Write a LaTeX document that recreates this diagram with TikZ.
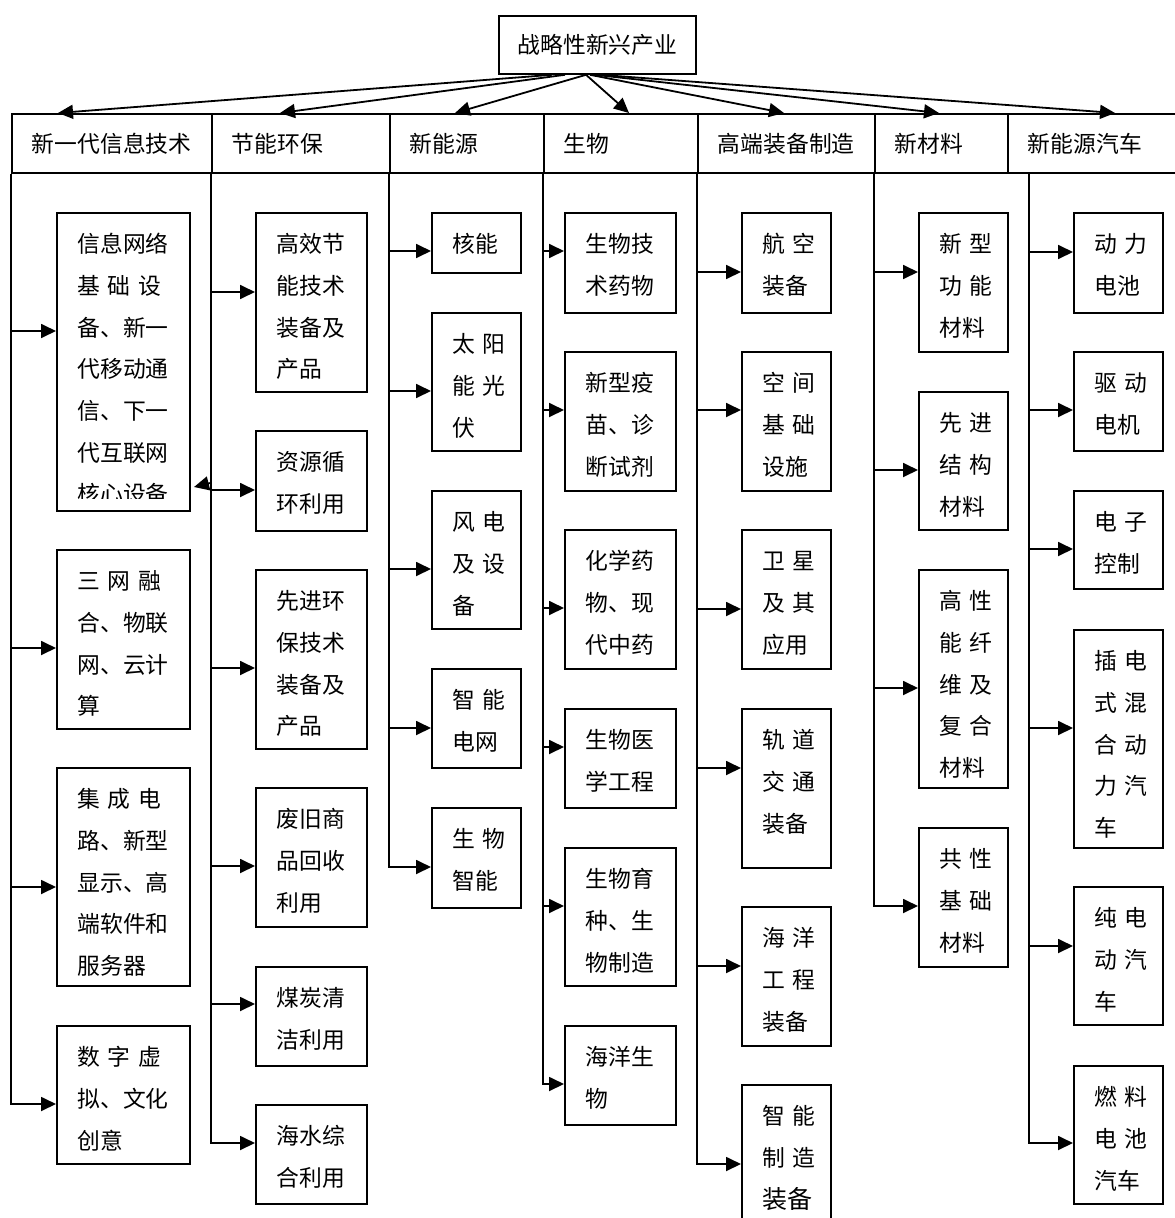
\documentclass[tikz,border=0pt]{standalone}
\usepackage{fontspec}
\newfontfamily\cjk{Noto Sans CJK SC}
\usepackage{tikz}
\usetikzlibrary{arrows.meta,calc}
\newcommand{\spreadline}[1]{\makebox[4em][s]{#1}}

\begin{document}
\begin{tikzpicture}[x=1pt,y=-1pt,line width=1.8pt,
  every node/.style={font=\cjk\fontsize{22.8}{41.7}\selectfont},
  head/.style={draw,anchor=north west,minimum height=59pt,inner xsep=20pt,align=left},
  item/.style={draw,anchor=north west,inner xsep=20.5pt,inner ysep=0pt,align=left,text height=39.7pt,text depth=#1},
  wide/.style={text width=92pt},
  mid/.style={text width=70pt},
  narrow/.style={text width=48pt},
  arr/.style={-{Triangle[length=15pt,width=14pt]}}]
  \useasboundingbox (0,0) rectangle (1175,1218);
  % root and header row
  \node[draw,anchor=north west,minimum width=197pt,minimum height=58pt] (root) at (498,15) {战略性新兴产业};
  \node[head,text width=160pt] (h1) at (11,113) {新一代信息技术};
  \node[head,text width=138pt] (h2) at (211,113) {节能环保};
  \node[head,text width=114pt] (h3) at (389,113) {新能源};
  \node[head,text width=114pt] (h4) at (543,113) {生物};
  \node[head,text width=137pt] (h5) at (697,113) {高端装备制造};
  \node[head,text width=93pt] (h6) at (874,113) {新材料};
  \node[head,text width=140pt] (h7) at (1007,113) {新能源汽车};
  \foreach \h/\a/\b in {h1/54/47,h2/67/69,h3/88/66,h4/88/86,h5/92/87,h6/97/65,h7/102/108}
    \draw[arr] ($(root.south west)+(\a,0)$) -- ($(\h.north west)+(\b,0)$);
  \coordinate (t1) at (h1.south west);
  \coordinate (t2) at (h2.south west);
  \coordinate (t3) at (h3.south west);
  \coordinate (t4) at (h4.south west);
  \coordinate (t5) at (h5.south west);
  \coordinate (t6) at (h6.south west);
  \coordinate (t7) at ($(h7.south west)+(22,0)$);
  % new generation IT
  \node[item=258.3pt,wide] (it1) at (56,212) {信息网络\\\spreadline{基 础 设}\\备、新一\\代移动通\\信、下一\\代互联网\\核心设备};
  \fill[white] (57.5,499) rectangle (187.5,509);
  \node[item=139.3pt,wide] (it2) at (56,549) {\spreadline{三 网 融}\\合、物联\\网、云计\\算};
  \node[item=178.3pt,wide] (it3) at (56,767) {\spreadline{集 成 电}\\路、新型\\显示、高\\端软件和\\服务器};
  \node[item=98.3pt,wide] (it4) at (56,1025) {\spreadline{数 字 虚}\\拟、文化\\创意};
  % energy saving
  \node[item=139.3pt,mid] (eco1) at (255,212) {高效节\\能技术\\装备及\\产品};
  \node[item=60.3pt,mid] (eco2) at (255,430) {资源循\\环利用};
  \node[item=139.3pt,mid] (eco3) at (255,569) {先进环\\保技术\\装备及\\产品};
  \node[item=99.3pt,mid] (eco4) at (255,787) {废旧商\\品回收\\利用};
  \node[item=59.3pt,mid] (eco5) at (255,966) {煤炭清\\洁利用};
  \node[item=59.3pt,mid] (eco6) at (255,1104) {海水综\\合利用};
  % new energy
  \node[item=20.3pt,narrow] (en1) at (431,212) {核能};
  \node[item=98.3pt,narrow] (en2) at (431,312) {太~阳\\能~光\\伏};
  \node[item=98.3pt,narrow] (en3) at (431,490) {风~电\\及~设\\备};
  \node[item=59.3pt,narrow] (en4) at (431,668) {智~能\\电网};
  \node[item=60.3pt,narrow] (en5) at (431,807) {生~物\\智能};
  % biology
  \node[item=60.3pt,mid] (bio1) at (564,212) {生物技\\术药物};
  \node[item=99.3pt,mid] (bio2) at (564,351) {新型疫\\苗、诊\\断试剂};
  \node[item=99.3pt,mid] (bio3) at (564,529) {化学药\\物、现\\代中药};
  \node[item=59.3pt,mid] (bio4) at (564,708) {生物医\\学工程};
  \node[item=98.3pt,mid] (bio5) at (564,847) {生物育\\种、生\\物制造};
  \node[item=59.3pt,mid] (bio6) at (564,1025) {海洋生\\物};
  % high-end equipment
  \node[item=60.3pt,narrow] (eq1) at (741,212) {航~空\\装备};
  \node[item=99.3pt,narrow] (eq2) at (741,351) {空~间\\基~础\\设施};
  \node[item=99.3pt,narrow] (eq3) at (741,529) {卫~星\\及~其\\应用};
  \node[item=119.3pt,narrow] (eq4) at (741,708) {轨~道\\交~通\\装备};
  \node[item=99.3pt,narrow] (eq5) at (741,906) {海~洋\\工~程\\装备};
  \node[item=105.3pt,narrow] (eq6) at (741,1084) {智~能\\制~造\\{\fontsize{25}{41.7}\selectfont 装备}};
  % new materials
  \node[item=99.3pt,narrow] (mat1) at (918,212) {新~型\\功~能\\材料};
  \node[item=98.3pt,narrow] (mat2) at (918,391) {先~进\\结~构\\材料};
  \node[item=178.3pt,narrow] (mat3) at (918,569) {高~性\\能~纤\\维~及\\复~合\\材料};
  \node[item=99.3pt,narrow] (mat4) at (918,827) {共~性\\基~础\\材料};
  % new energy vehicles
  \node[item=60.3pt,narrow] (car1) at (1073,212) {动~力\\电池};
  \node[item=59.3pt,narrow] (car2) at (1073,351) {驱~动\\电机};
  \node[item=58.3pt,narrow] (car3) at (1073,490) {电~子\\控制};
  \node[item=178.3pt,narrow] (car4) at (1073,629) {插~电\\式~混\\合~动\\力~汽\\车};
  \node[item=98.3pt,narrow] (car5) at (1073,886) {纯~电\\动~汽\\车};
  \node[item=98.3pt,narrow] (car6) at (1073,1065) {燃~料\\电~池\\汽车};
  % branches
  \foreach \t/\n/\d in {t1/it1/119,t1/it2/99,t1/it3/120,
      t2/eco1/80,t2/eco2/60,t2/eco3/99,t2/eco4/79,t2/eco5/38,
      t3/en1/39,t3/en2/79,t3/en3/79,t3/en4/60,
      t4/bio1/39,t4/bio2/59,t4/bio3/79,t4/bio4/39,t4/bio5/59,
      t5/eq1/60,t5/eq2/59,t5/eq3/80,t5/eq4/60,t5/eq5/60,
      t6/mat1/60,t6/mat2/79,t6/mat3/119,
      t7/car1/40,t7/car2/59,t7/car3/59,t7/car4/99,t7/car5/60}
    \draw[arr] ($(\t |- \n.north west)+(0,\d)$) -- ($(\n.north west)+(0,\d)$);
  \foreach \t/\n/\d in {t1/it4/79,t2/eco6/39,t3/en5/60,t4/bio6/59,t5/eq6/80,t6/mat4/79,t7/car6/78}
    \draw[arr] (\t) |- ($(\n.north west)+(0,\d)$);
  \coordinate (stray) at (194,487);
  \draw[arr] ($(t2)+(0,309)$) -- (stray);
\end{tikzpicture}
\end{document}
